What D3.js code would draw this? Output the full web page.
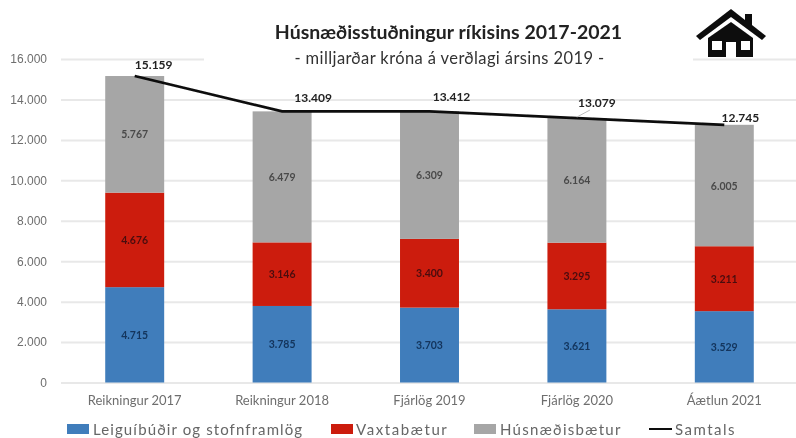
<!DOCTYPE html>
<html>
<head>
<meta charset="utf-8">
<script src="https://d3js.org/d3.v7.min.js"></script>
<title>Húsnæðisstuðningur</title>
<style>
    html, body { margin: 0; padding: 0; background: #fff; }
    svg { display: block; font-family: Lato, "Open Sans", sans-serif; }
    .gridlines line { stroke: #e8e8e8; stroke-width: 2; }
    .gridlines .domain { stroke: none; }
    .gridlines text { fill: #6e6e6e; font-size: 12px; }
</style>
</head>
<body>
<svg id="chart" width="796" height="438"></svg>
<script>
const categories = ["Reikningur 2017", "Reikningur 2018", "Fjárlög 2019", "Fjárlög 2020", "Áætlun 2021"];
const leiguibudir = [4715, 3785, 3703, 3621, 3529];
const vaxtabaetur = [4676, 3146, 3400, 3295, 3211];
const husnaedisbaetur = [5767, 6479, 6309, 6164, 6005];
const samtals = [15159, 13409, 13412, 13079, 12745];
const yTicks = [0, 2000, 4000, 6000, 8000, 10000, 12000, 14000, 16000];
const seriesNames = ["Leiguíbúðir og stofnframlög", "Vaxtabætur", "Húsnæðisbætur", "Samtals"];

const colors = ["#3f7dbb", "#cc1f0d", "#a6a6a6"];
const labelColors = ["#12345c", "#4a0a08", "#4a4a4a"];

const svg = d3.select("svg#chart");
const margin = {top: 59, right: -2, bottom: 55.5, left: 61};
const width = +svg.attr("width");
const height = +svg.attr("height");

const blur = svg.append("defs").append("filter").attr("id", "soft");
blur.append("feGaussianBlur").attr("stdDeviation", 0.5);

const root = svg.append("g").attr("filter", "url(#soft)");

const x = d3.scaleBand()
    .domain(categories)
    .range([margin.left, width - margin.right])
    .paddingInner(0.6)
    .paddingOuter(0.3);

const y = d3.scaleLinear()
    .domain([0, 16000])
    .range([height - margin.bottom, margin.top]);

const fmt = d3.formatLocale({decimal: ",", thousands: ".", grouping: [3], currency: ["", ""]}).format(",d");

// gridlines and y labels
const yAxis = d3.axisLeft(y)
    .tickValues(yTicks)
    .tickSize(-(width - margin.right - margin.left))
    .tickPadding(14)
    .tickFormat(fmt);

root.append("g")
    .attr("class", "gridlines")
    .attr("transform", `translate(${margin.left},0)`)
    .call(yAxis);

// white box behind the title cuts the top gridline
root.append("rect")
    .attr("x", 204).attr("y", 50).attr("width", 489).attr("height", 16)
    .attr("fill", "#fff");

// stacked bars
const rows = categories.map((c, i) => ({
    category: c,
    a: leiguibudir[i],
    b: vaxtabaetur[i],
    c: husnaedisbaetur[i]
}));
const stacked = d3.stack().keys(["a", "b", "c"])(rows);

stacked.forEach((layer, s) => {
    layer.forEach(d => {
        root.append("rect")
            .attr("x", x(d.data.category))
            .attr("y", y(d[1]))
            .attr("width", x.bandwidth())
            .attr("height", y(d[0]) - y(d[1]))
            .attr("fill", colors[s]);

        root.append("text")
            .attr("x", x(d.data.category) + x.bandwidth() / 2)
            .attr("y", (y(d[0]) + y(d[1])) / 2 + 4)
            .attr("text-anchor", "middle")
            .attr("font-size", 10.5)
            .attr("font-weight", 700)
            .attr("fill", labelColors[s])
            .text(fmt(d[1] - d[0]));
    });
});

// total line
const center = c => x(c) + x.bandwidth() / 2;
const line = d3.line()
    .x((d, i) => center(categories[i]))
    .y(d => y(d));

root.append("path")
    .attr("d", line(samtals))
    .attr("fill", "none")
    .attr("stroke", "#0d0d0d")
    .attr("stroke-width", 2.8);

// leader line for the 2020 total
root.append("line")
    .attr("x1", center(categories[3])).attr("y1", y(samtals[3]) - 1)
    .attr("x2", center(categories[3]) + 13).attr("y2", y(samtals[3]) - 8)
    .attr("stroke", "#bbb");

// total labels sit where they were dragged to in the original
const totalDx = [19, 31, 22, 20, 16];
const totalDy = [-7, -9, -10, -11, -3];
samtals.forEach((v, i) => {
    root.append("text")
        .attr("x", center(categories[i]) + totalDx[i])
        .attr("y", y(v) + totalDy[i])
        .attr("text-anchor", "middle")
        .attr("font-size", 12)
        .attr("font-weight", 700)
        .attr("fill", "#222")
        .text(fmt(v));
});

// x labels
categories.forEach(c => {
    root.append("text")
        .attr("x", center(c))
        .attr("y", 405)
        .attr("text-anchor", "middle")
        .attr("font-size", 13)
        .attr("fill", "#6e6e6e")
        .text(c);
});

// title
root.append("text")
    .attr("x", 448.5).attr("y", 39)
    .attr("text-anchor", "middle")
    .attr("font-size", 19.5)
    .attr("font-weight", 700)
    .attr("fill", "#222")
    .text("Húsnæðisstuðningur ríkisins 2017-2021");

root.append("text")
    .attr("x", 449.5).attr("y", 64)
    .attr("text-anchor", "middle")
    .attr("font-size", 16.5)
    .attr("letter-spacing", 0.4)
    .attr("fill", "#333")
    .text("- milljarðar króna á verðlagi ársins 2019 -");

// legend
const legendX = [67, 331, 474, 649];
const legendTextX = [93, 356, 500, 675];
const legendSpacing = [1.1, 1.6, 1.3, 1.5];
seriesNames.forEach((name, i) => {
    if (i < 3) {
        root.append("rect")
            .attr("x", legendX[i]).attr("y", 424)
            .attr("width", 22).attr("height", 10)
            .attr("fill", colors[i]);
    } else {
        root.append("line")
            .attr("x1", legendX[i]).attr("x2", legendX[i] + 23)
            .attr("y1", 429).attr("y2", 429)
            .attr("stroke", "#0d0d0d").attr("stroke-width", 2);
    }
    root.append("text")
        .attr("x", legendTextX[i]).attr("y", 435)
        .attr("font-size", 15)
        .attr("letter-spacing", legendSpacing[i])
        .attr("fill", "#666")
        .text(name);
});

// house icon
root.append("path")
    .attr("fill", "#0d0d0d")
    .attr("fill-rule", "evenodd")
    .attr("d", "M696 36 L731 9 L745 20 L745 14 L752 14 L752 25 L766 36 L762 40 L731 17 L700 40 Z " +
               "M708 38 L731 22 L753 38 L753 57 L736 57 L736 42 L726 42 L726 57 L708 57 Z " +
               "M712 41 L712 50 L722 50 L722 41 Z M741 41 L741 50 L750 50 L750 41 Z");
</script>
</body>
</html>
